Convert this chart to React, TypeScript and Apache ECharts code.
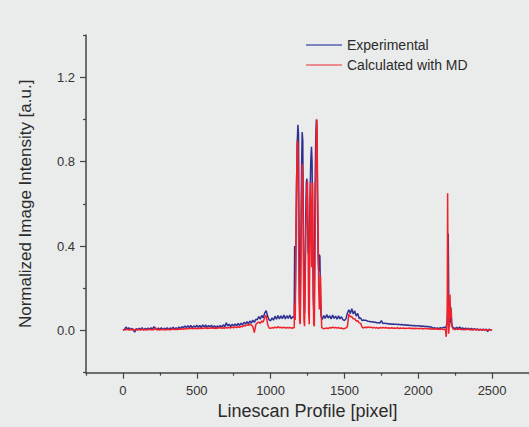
import React, { useEffect, useRef } from "react";
import * as echarts from "echarts";

// ---------- data ----------
const STEP = 10;

// Experimental (blue), evenly sampled x = 0..1150
const EXP_LEFT_START = 0;
const expLeft = [
  0.003, 0.004, 0.016, 0.008, 0.013, 0.004, 0.010, 0.002, -0.008, 0.009,
  0.003, 0.011, 0.004, 0.013, 0.002, 0.010, 0.005, 0.012, 0.004, 0.013,
  0.006, 0.018, 0.008, 0.004, 0.012, 0.005, 0.013, 0.003, 0.011, 0.006,
  0.013, 0.004, 0.012, 0.007, 0.015, 0.006, 0.013, 0.008, 0.016, 0.009,
  0.018, 0.013, 0.021, 0.014, 0.023, 0.013, 0.024, 0.012, 0.022, 0.015,
  0.025, 0.015, 0.024, 0.014, 0.027, 0.016, 0.026, 0.015, 0.024, 0.016,
  0.025, 0.014, 0.023, 0.013, 0.022, 0.015, 0.024, 0.016, 0.027, 0.018,
  0.036, 0.021, 0.030, 0.019, 0.029, 0.021, 0.031, 0.022, 0.033, 0.024,
  0.035, 0.026, 0.039, 0.030, 0.042, 0.032, 0.045, 0.035, 0.049, 0.038,
  0.053, 0.051, 0.066, 0.054, 0.071, 0.060, 0.082, 0.094, 0.068, 0.050,
  0.046, 0.060, 0.049, 0.068, 0.053, 0.071, 0.055, 0.069, 0.056, 0.073,
  0.055, 0.070, 0.057, 0.073, 0.055, 0.066,
];
// Experimental peak region [pixel, intensity]
const expPeaks: [number, number][] = [
  [1155, 0.062], [1160, 0.066], [1163, 0.40], [1166, 0.12], [1170, 0.30], [1175, 0.65],
  [1180, 0.88], [1185, 0.975], [1189, 0.93], [1193, 0.45], [1197, 0.12], [1201, 0.08],
  [1205, 0.40], [1210, 0.78], [1214, 0.94], [1218, 0.90], [1222, 0.50], [1226, 0.18],
  [1230, 0.08], [1234, 0.25], [1238, 0.55], [1242, 0.70], [1246, 0.72], [1250, 0.60],
  [1254, 0.38], [1258, 0.36], [1262, 0.40], [1267, 0.62], [1272, 0.80], [1277, 0.87],
  [1281, 0.80], [1285, 0.45], [1289, 0.15], [1293, 0.08], [1297, 0.30], [1301, 0.65],
  [1306, 0.92], [1310, 1.00], [1314, 0.95], [1318, 0.60], [1322, 0.35], [1326, 0.28],
  [1330, 0.36], [1334, 0.35], [1338, 0.15], [1342, 0.07], [1346, 0.058],
];
// Experimental, evenly sampled x = 1350..2180
const EXP_RIGHT_START = 1350;
const expRight = [
  0.052, 0.071, 0.057, 0.075, 0.059, 0.070, 0.055, 0.073, 0.057, 0.068,
  0.053, 0.069, 0.055, 0.065, 0.051, 0.047, 0.055, 0.082, 0.098, 0.080,
  0.103, 0.078, 0.093, 0.068, 0.081, 0.057, 0.059, 0.047, 0.050, 0.048,
  0.047, 0.044, 0.043, 0.041, 0.041, 0.039, 0.039, 0.037, 0.037, 0.035,
  0.047, 0.033, 0.035, 0.033, 0.033, 0.031, 0.032, 0.030, 0.031, 0.029,
  0.030, 0.028, 0.029, 0.027, 0.028, 0.026, 0.027, 0.025, 0.026, 0.024,
  0.025, 0.023, 0.024, 0.022, 0.023, 0.021, 0.022, 0.020, 0.021, 0.019,
  0.020, 0.018, 0.019, 0.016, 0.016, 0.010, 0.013, 0.010, 0.012, 0.009,
  0.013, 0.011, 0.014, 0.015,
];
const expSpike: [number, number][] = [
  [2185, 0.012], [2190, 0.02], [2195, 0.04], [2199, 0.10], [2203, 0.46], [2207, 0.12],
  [2211, 0.02], [2216, 0.05], [2221, 0.11], [2225, 0.04], [2230, 0.02], [2235, 0.015],
];
const EXP_TAIL_START = 2240;
const expTail = [
  0.013, 0.008, 0.015, 0.007, 0.017, 0.008, 0.013, 0.006, 0.012, 0.005,
  0.011, 0.004, 0.010, 0.003, 0.009, 0.003, 0.008, 0.002, 0.007, 0.001,
  0.006, 0.002, 0.007, -0.005, 0.006, 0.002, 0.004,
];

// Calculated with MD (red)
const CAL_LEFT_START = 0;
const calLeft = [
  0.002, 0.004, 0.003, 0.006, 0.002, 0.005, 0.003, 0.006, 0.002, 0.004,
  0.003, 0.005, 0.002, 0.006, 0.003, 0.005, 0.002, 0.004, 0.006, 0.003,
  0.005, 0.004, 0.014, 0.003, 0.005, 0.002, 0.004, 0.006, 0.003, 0.005,
  0.004, 0.006, 0.003, 0.005, 0.007, 0.004, 0.006, 0.005, 0.007, 0.006,
  0.008, 0.006, 0.009, 0.007, 0.010, 0.008, 0.011, 0.008, 0.010, 0.009,
  0.011, 0.008, 0.012, 0.009, 0.011, 0.010, 0.013, 0.009, 0.012, 0.010,
  0.013, 0.010, 0.012, 0.009, 0.013, 0.011, 0.014, 0.010, 0.013, 0.011,
  0.014, 0.012, 0.015, 0.012, 0.016, 0.013, 0.017, 0.014, 0.018, 0.015,
  0.020, 0.018, 0.024, 0.021, 0.027, 0.024, 0.030, 0.026, 0.018, -0.010,
  0.028, 0.036, 0.040, 0.034, 0.045, 0.040, 0.062, 0.072, 0.030, 0.012,
  0.010, 0.014, 0.011, 0.016, 0.012, 0.018, 0.013, 0.015, 0.012, 0.016,
  0.011, 0.014, 0.012, 0.015, 0.011, 0.013,
];
const calPeaks: [number, number][] = [
  [1155, 0.012], [1160, 0.014], [1163, 0.13], [1167, 0.05], [1171, 0.35], [1176, 0.70],
  [1181, 0.90], [1185, 0.88], [1189, 0.50], [1193, 0.15], [1197, 0.04], [1201, 0.03],
  [1205, 0.30], [1210, 0.65], [1214, 0.79], [1218, 0.72], [1222, 0.35], [1226, 0.05],
  [1230, 0.02], [1234, 0.20], [1238, 0.45], [1242, 0.55], [1246, 0.68], [1250, 0.71],
  [1254, 0.40], [1258, 0.08], [1262, 0.03], [1266, 0.45], [1270, 0.70], [1274, 0.55],
  [1278, 0.30], [1282, 0.60], [1285, 0.70], [1288, 0.35], [1292, 0.03], [1296, 0.02],
  [1300, 0.25], [1305, 0.70], [1310, 0.95], [1314, 1.00], [1318, 0.70], [1322, 0.45],
  [1326, 0.20], [1330, 0.10], [1334, 0.15], [1338, 0.26], [1342, 0.12], [1346, 0.015],
];
const CAL_RIGHT_START = 1350;
const calRight = [
  0.012, 0.008, 0.010, 0.012, 0.009, 0.014, 0.011, 0.016, 0.012, 0.015,
  0.011, 0.014, 0.010, 0.012, 0.008, 0.009, 0.012, 0.018, 0.078, 0.065,
  0.066, 0.055, 0.056, 0.045, 0.046, 0.036, 0.034, 0.015, 0.012, 0.016,
  0.013, 0.017, 0.014, 0.016, 0.012, 0.015, 0.011, 0.014, 0.010, 0.014,
  0.011, 0.015, 0.012, 0.014, 0.011, 0.013, 0.010, 0.013, 0.011, 0.012,
  0.010, 0.013, 0.009, 0.012, 0.010, 0.012, 0.009, 0.011, 0.010, 0.012,
  0.009, 0.011, 0.008, 0.011, 0.009, 0.010, 0.008, 0.011, 0.007, 0.010,
  0.008, 0.010, 0.007, 0.009, 0.006, 0.008, 0.005, 0.008, 0.006, 0.007,
  0.005, 0.008, 0.004, 0.006,
];
const calSpike: [number, number][] = [
  [2185, 0.004], [2189, -0.03], [2193, 0.015], [2196, 0.05], [2199, 0.65], [2202, 0.15],
  [2206, -0.015], [2210, 0.03], [2215, 0.17], [2219, 0.06], [2223, 0.10], [2228, 0.02],
  [2235, 0.008],
];
const CAL_TAIL_START = 2240;
const calTail = [
  0.006, 0.004, 0.007, 0.005, 0.008, 0.004, 0.006, 0.003, 0.006, 0.004,
  0.007, 0.003, 0.005, 0.004, 0.006, 0.003, 0.005, 0.002, 0.004, 0.003,
  0.005, 0.002, 0.004, 0.001, 0.004, 0.002, 0.003,
];

const seriesNames = ["Experimental", "Calculated with MD"];
const xLabelValues = [0, 500, 1000, 1500, 2000, 2500];
const yLabelValues = [0, 0.4, 0.8, 1.2];

// ---------- helpers ----------
const sampled = (start: number, ys: number[]): [number, number][] =>
  ys.map((y, i) => [start + i * STEP, y]);

const expData = [
  ...sampled(EXP_LEFT_START, expLeft),
  ...expPeaks,
  ...sampled(EXP_RIGHT_START, expRight),
  ...expSpike,
  ...sampled(EXP_TAIL_START, expTail),
];
const calData = [
  ...sampled(CAL_LEFT_START, calLeft),
  ...calPeaks,
  ...sampled(CAL_RIGHT_START, calRight),
  ...calSpike,
  ...sampled(CAL_TAIL_START, calTail),
];

const FONT = 'Arial, "Liberation Sans", sans-serif';
const BLUE = "#2e3192";
const RED = "#f2202a";

export default function App() {
  const ref = useRef<HTMLDivElement>(null);
  useEffect(() => {
    if (!ref.current) return;
    const chart = echarts.init(ref.current, null, { renderer: "svg" });
    chart.setOption({
      animation: false,
      backgroundColor: "#eaebeb",
      textStyle: { fontFamily: FONT },
      grid: { left: 86, top: 35, width: 450, bottom: 54.3, containLabel: false },
      legend: {
        orient: "vertical",
        left: 306,
        top: 38,
        padding: 0,
        itemGap: 6,
        itemWidth: 36,
        itemHeight: 1.5,
        icon: "rect",
        data: [
          { name: seriesNames[0], itemStyle: { color: "#5860b0" } },
          { name: seriesNames[1], itemStyle: { color: "#ee6a72" } },
        ],
        textStyle: { fontSize: 14, color: "#2b2b2b", fontFamily: FONT },
      },
      xAxis: {
        type: "value",
        min: -250,
        max: 2750,
        interval: 500,
        name: "Linescan Profile [pixel]",
        nameLocation: "middle",
        nameGap: 27,
        nameTextStyle: { fontSize: 18, color: "#2b2b2b", fontFamily: FONT },
        axisLine: { show: true, onZero: false, lineStyle: { color: "#444", width: 1.5 } },
        axisTick: { show: true, length: 3, lineStyle: { color: "#444", width: 1.2 } },
        minorTick: { show: true, splitNumber: 2, length: 6, lineStyle: { color: "#444", width: 1.2 } },
        splitLine: { show: false },
        minorSplitLine: { show: false },
        axisLabel: {
          customValues: xLabelValues,
          margin: 11,
          fontSize: 13,
          color: "#333",
          fontFamily: FONT,
          formatter: (v: number) => String(v),
        },
      },
      yAxis: {
        type: "value",
        min: -0.2,
        max: 1.4,
        interval: 0.4,
        name: "Normalized Image Intensity [a.u.]",
        nameLocation: "middle",
        nameGap: 52,
        nameTextStyle: { fontSize: 17, color: "#2b2b2b", fontFamily: FONT },
        axisLine: { show: true, onZero: false, lineStyle: { color: "#444", width: 1.5 } },
        axisTick: { show: true, length: 3, lineStyle: { color: "#444", width: 1.2 } },
        minorTick: { show: true, splitNumber: 2, length: 6, lineStyle: { color: "#444", width: 1.2 } },
        splitLine: { show: false },
        minorSplitLine: { show: false },
        axisLabel: {
          customValues: yLabelValues,
          margin: 11,
          fontSize: 13,
          color: "#333",
          fontFamily: FONT,
          formatter: (v: number) => v.toFixed(1),
        },
      },
      series: [
        {
          name: seriesNames[0],
          type: "line",
          data: expData,
          symbol: "none",
          lineStyle: { color: BLUE, width: 1.5 },
          itemStyle: { color: BLUE },
        },
        {
          name: seriesNames[1],
          type: "line",
          data: calData,
          symbol: "none",
          lineStyle: { color: RED, width: 1.5 },
          itemStyle: { color: RED },
        },
      ],
    });
    return () => chart.dispose();
  }, []);
  return (
    <div
      ref={ref}
      style={{ position: "fixed", left: 0, top: 0, width: 529, height: 427 }}
    />
  );
}
